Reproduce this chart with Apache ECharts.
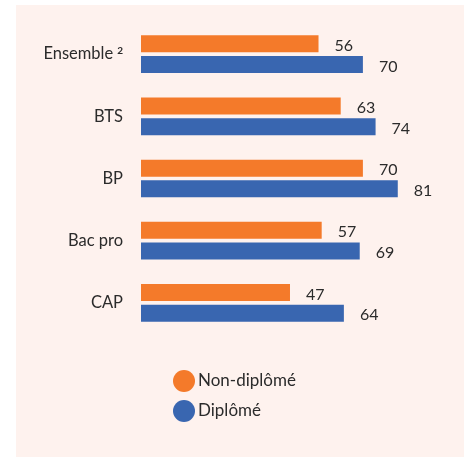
<!DOCTYPE html>
<html>
<head>
<meta charset="utf-8">
<script src="https://cdn.jsdelivr.net/npm/echarts@6/dist/echarts.min.js"></script>
<style>
html,body{margin:0;padding:0;background:#fff;}
#c{width:464px;height:457px;}
</style>
</head>
<body>
<div id="c"></div>
<script>
var categories = ['Ensemble²', 'BTS', 'BP', 'Bac pro', 'CAP'];
var nonDiplome = [56, 63, 70, 57, 47];
var diplome = [70, 74, 81, 69, 64];
var seriesNames = ['Non-diplômé', 'Diplômé'];

var FONT = 'Lato';
var chart = echarts.init(document.getElementById('c'), null, {renderer: 'canvas'});
var labelCfg = {
  show: true, position: 'right', distance: 16, offset: [0, 2],
  color: '#2b2b2b', fontSize: 16, fontFamily: FONT
};
chart.setOption({
  backgroundColor: '#ffffff',
  animation: false,
  graphic: [{
    type: 'rect', z: -10, silent: true,
    shape: {x: 16, y: 5, width: 448, height: 452},
    style: {fill: '#FEF2EE'}
  }],
  grid: {left: 141, top: 23, width: 317, height: 311, containLabel: false},
  xAxis: {type: 'value', min: 0, max: 100, show: false},
  yAxis: {
    type: 'category', data: categories, inverse: true,
    axisLine: {show: false}, axisTick: {show: false},
    axisLabel: {
      margin: 18, color: '#2b2b2b', fontSize: 16.5, fontFamily: FONT,
      formatter: function (v) {
        if (v.indexOf('²') >= 0) return v.replace('²', '') + '{sup|2}';
        return v;
      },
      rich: {sup: {fontSize: 10, fontWeight: 'bold', fontFamily: FONT, color: '#2b2b2b', padding: [0, 0, 7, 4]}}
    }
  },
  legend: {
    orient: 'vertical', left: 168, top: 365, itemGap: 8,
    icon: 'circle', itemWidth: 22, itemHeight: 22,
    textStyle: {color: '#2b2b2b', fontSize: 17, fontFamily: FONT, padding: [0,0,0,-2]},
    data: seriesNames
  },
  series: [
    {name: seriesNames[0], type: 'bar', data: nonDiplome, barWidth: 17, barGap: '22%',
     itemStyle: {color: '#F47A2A'}, label: labelCfg},
    {name: seriesNames[1], type: 'bar', data: diplome, barWidth: 17, barGap: '22%',
     itemStyle: {color: '#3966B0'}, label: labelCfg}
  ]
});
</script>
</body>
</html>
